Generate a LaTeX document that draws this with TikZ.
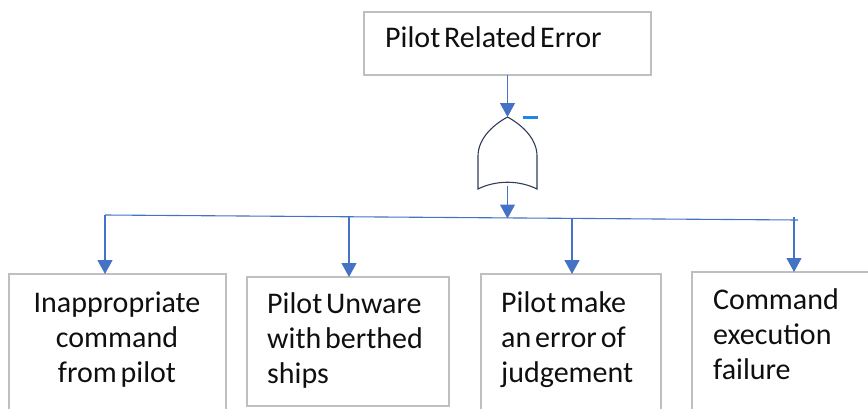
\documentclass[tikz,border=0pt]{standalone}
\usepackage{fontspec}
\setmainfont{Carlito}
\usetikzlibrary{arrows.meta}
\definecolor{connblue}{RGB}{68,114,196}
\definecolor{boxgray}{RGB}{191,191,191}
\definecolor{gateline}{RGB}{50,60,90}
\definecolor{txtcol}{RGB}{15,15,15}
\definecolor{markblue}{RGB}{30,136,229}
\newcommand{\lblfont}{\fontsize{30}{35}\selectfont}
\begin{document}
\begin{tikzpicture}[x=1pt,y=-1pt,
  box/.style={draw=boxgray, line width=1.3pt, anchor=north west, inner sep=0pt, outer sep=0pt},
  lbl/.style={inner sep=0pt, text=txtcol, font=\lblfont, execute at begin node={\spaceskip=0.13em\relax}},
  conn/.style={draw=connblue, line width=1.1pt},
  arr/.style={conn, -{Triangle[width=15pt,length=14pt]}}]
\clip (0,0) rectangle (868,408);
\useasboundingbox (0,0) rectangle (868,408);
% top event
\node[box, minimum width=287pt, minimum height=63pt] (top) at (364,12) {};
\node[lbl, anchor=base west] (toptxt) at (385,47) {Pilot Related Error};
% OR gate
\coordinate (gtop) at (507.5,117);
\coordinate (gbot) at (507.5,186);
\draw[gateline, line width=1.1pt]
  (gtop) .. controls (491,126) and (478,140) .. (478,156) -- (478,189)
  .. controls (496,180) and (519,180) .. (537,189) -- (537,156)
  .. controls (537,140) and (524,126) .. (gtop);
\node[fill=markblue, inner sep=0pt, minimum width=15pt, minimum height=3pt] (dashmark) at (530.5,117) {};
% bottom events
\node[box, minimum width=217pt, minimum height=150pt] (b1) at (9,274) {};
\node[box, minimum width=202pt, minimum height=129pt] (b2) at (247,277) {};
\node[box, minimum width=180pt, minimum height=150pt] (b3) at (481,274) {};
\node[box, minimum width=200pt, minimum height=150pt] (b4) at (692,272) {};
\node[lbl, anchor=base, text width=200pt, align=center] (t1) at (117,312) {Inappropriate\\command\\from pilot};
\node[lbl, anchor=base west, text width=180pt, align=left] (t2) at (267,313) {Pilot Unware\\with berthed\\ships};
\node[lbl, anchor=base west, text width=160pt, align=left] (t3) at (501,312) {Pilot make\\an error of\\judgement};
\node[lbl, anchor=base west, text width=150pt, align=left] (t4) at (713,309) {Command\\execution\\failure};
% bar and junctions
\coordinate (j1) at (105,215);
\coordinate (j2) at (349,217);
\coordinate (jm) at (507.5,218.5);
\coordinate (j3) at (572,218.5);
\coordinate (j4) at (794,217);
\coordinate (barR) at (798,220);
\draw[conn] (j1) -- (barR);
% connectors
\draw[arr] (top.south -| gtop) -- (gtop);
\draw[arr] (gbot) -- (jm);
\draw[arr] (j1) -- (j1 |- b1.north);
\draw[arr] (j2) -- (j2 |- b2.north);
\draw[arr] (j3) -- (j3 |- b3.north);
\draw[arr] (j4) -- (j4 |- b4.north);
\end{tikzpicture}
\end{document}
